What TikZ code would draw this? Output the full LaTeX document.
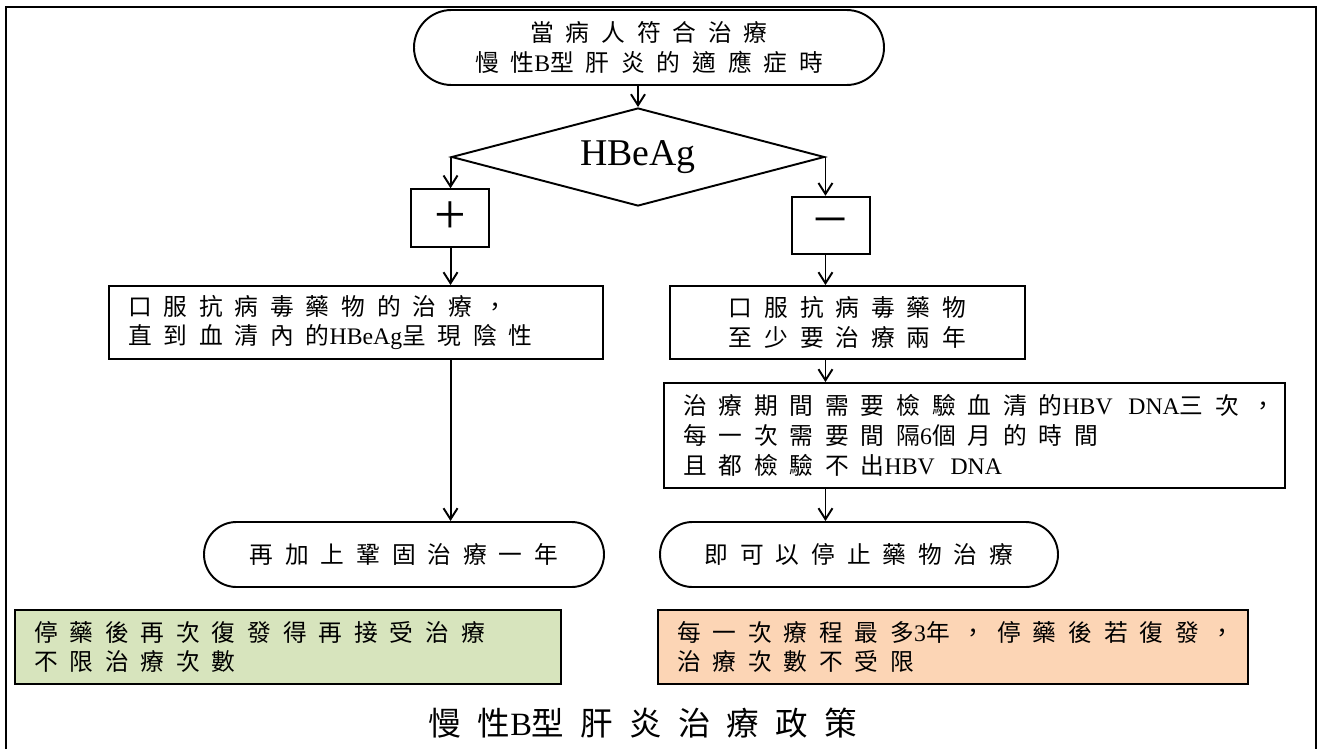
\documentclass[tikz,border=0pt]{standalone}
\usepackage{fontspec}
\setmainfont{Liberation Serif}
\newfontfamily\cjk[LetterSpace=50]{Noto Sans CJK TC}
\usetikzlibrary{shapes.geometric,shapes.misc,arrows.meta}
\definecolor{notegreen}{HTML}{D7E4BD}
\definecolor{noteorange}{HTML}{FCD5B5}
\newcommand{\lat}[1]{{\rmfamily #1}}

\begin{document}
\begin{tikzpicture}[
		>={Straight Barb[length=2.2mm,width=2.8mm]},
		every node/.style={font=\cjk\fontsize{13.5}{17}\selectfont},
		termbox/.style={rounded rectangle, draw, line width=1.1pt, inner sep=0pt, align=center},
		procbox/.style={rectangle, draw, line width=1.1pt, inner xsep=0.38cm, inner ysep=0pt, align=left},
		signbox/.style={rectangle, draw, line width=1.1pt, minimum width=1.56cm, minimum height=1.15cm,
				inner sep=0pt, font=\rmfamily\fontsize{32}{32}\selectfont},
		notebox/.style={procbox, line width=1.5pt},
		flow/.style={->, line width=1.1pt},
	]
	\useasboundingbox (0,0) rectangle (26.44,-14.98);
	% frame
	\draw[line width=1.1pt] (0.12,-14.98) -- (0.12,-0.14) -- (26.32,-0.14) -- (26.32,-14.98);
	%
	\node[termbox, minimum width=9.4cm, minimum height=1.5cm] (start) at (12.98,-0.95)
		{當病人符合治療\\ 慢性\lat{B}型肝炎的適應症時};
	\node[draw, diamond, shape aspect=3.8, line width=1.1pt, minimum width=7.46cm, minimum height=1.96cm,
		inner sep=0pt, font=\rmfamily\fontsize{21.5}{21.5}\selectfont] (hbeag) at (12.76,-3.14) {HBeAg};
	\node[signbox] (pos) at (9.0,-4.36) {+};
	\node[signbox] (neg) at (16.62,-4.51) {–};
	\node[procbox, text width=9.12cm, minimum height=1.46cm] (lproc) at (7.12,-6.45)
		{口服抗病毒藥物的治療，\\直到血清內的\lat{HBeAg}呈現陰性};
	\node[procbox, align=center, text width=6.34cm, minimum height=1.46cm] (rproc) at (16.95,-6.45)
		{口服抗病毒藥物\\至少要治療兩年};
	\node[procbox, text width=11.66cm, minimum height=2.1cm] (check) at (19.49,-8.71)
		{治療期間需要檢驗血清的\lat{HBV~~DNA}三次，\\每一次需要間隔\lat{6}個月的時間\\且都檢驗不出\lat{HBV~~DNA}};
	\node[termbox, minimum width=8.0cm, minimum height=1.3cm] (lend) at (8.08,-11.09) {再加上鞏固治療一年};
	\node[termbox, minimum width=7.96cm, minimum height=1.3cm] (rend) at (17.18,-11.09) {即可以停止藥物治療};
	\node[notebox, fill=notegreen, text width=10.16cm, minimum height=1.48cm] (lnote) at (5.76,-12.94)
		{停藥後再次復發得再接受治療\\不限治療次數};
	\node[notebox, fill=noteorange, text width=11.04cm, minimum height=1.48cm] (rnote) at (19.06,-12.94)
		{每一次療程最多\lat{3}年，停藥後若復發，\\治療次數不受限};
	\node[font=\cjk\fontsize{18.5}{18.5}\selectfont] (title) at (12.86,-14.46) {慢性\lat{B}型肝炎治療政策};
	%
	\draw[flow] (start.south -| hbeag.north) -- (hbeag.north);
	\draw[flow] (hbeag.west) -- (hbeag.west |- pos.north);
	\draw[flow] (pos.south -| hbeag.west) -- (hbeag.west |- lproc.north);
	\draw[flow] (lproc.south -| hbeag.west) -- (hbeag.west |- lend.north);
	\draw[flow] (hbeag.east) -- (hbeag.east |- neg.north);
	\draw[flow] (neg.south -| hbeag.east) -- (hbeag.east |- rproc.north);
	\draw[flow] (rproc.south -| hbeag.east) -- (hbeag.east |- check.north);
	\draw[flow] (check.south -| hbeag.east) -- (hbeag.east |- rend.north);
\end{tikzpicture}
\end{document}
